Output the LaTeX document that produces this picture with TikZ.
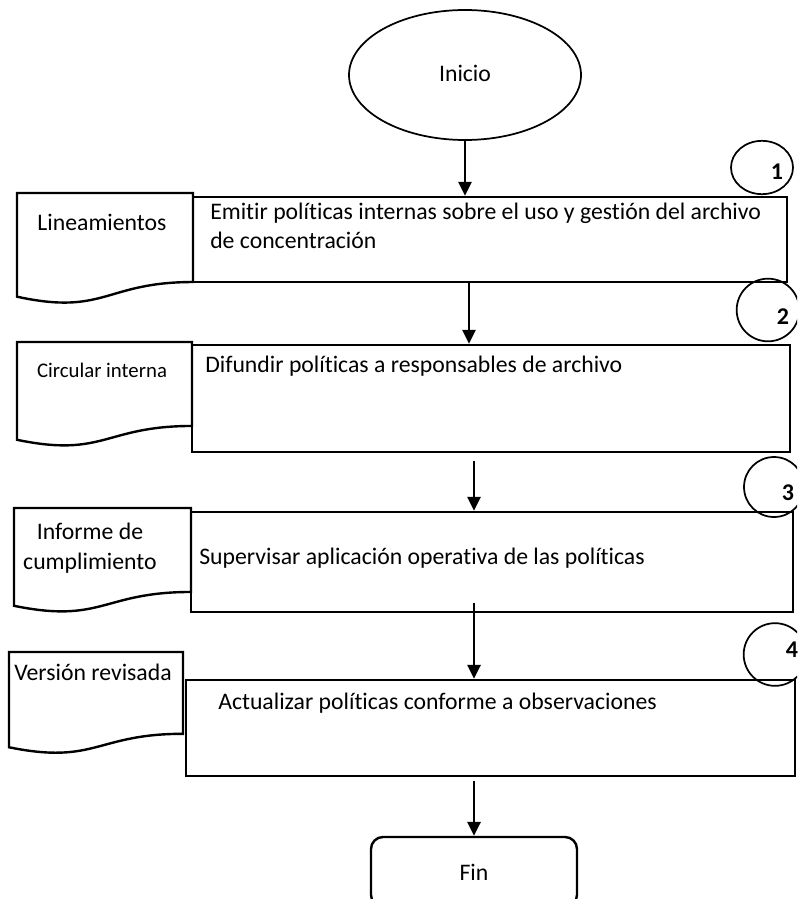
\documentclass[tikz,border=0pt]{standalone}
\usepackage{fontspec}
\setmainfont{Carlito}[Ligatures=NoCommon]
\usetikzlibrary{shapes.geometric,arrows.meta,calc}
\newcommand\docpath[4]{%
  \draw[docline] (#1,#2) -- ({#1+#3},#2) -- ({#1+#3},{#2+0.802*#4})
    .. controls ({#1+#3/2},{#2+0.802*#4}) and ({#1+#3/2},{#2+1.1075*#4}) .. (#1,{#2+0.934*#4}) -- cycle;}
\begin{document}
\begin{tikzpicture}[x=0.75pt,y=-0.75pt,
  proc/.style={draw,line width=1.8pt,rectangle,inner sep=0pt},
  docline/.style={draw,line width=1.8pt},
  txt/.style={font=\fontsize{17.8}{21.75}\selectfont,inner sep=0pt},
  smalltxt/.style={font=\fontsize{15.6}{19}\selectfont,inner sep=0pt},
  arr/.style={line width=1.6pt,-{Triangle[length=10.5pt,width=10pt]}},
  numc/.style={draw,line width=1.3pt,ellipse,inner sep=0pt},
  numtxt/.style={font=\fontsize{18}{20}\selectfont\bfseries,inner sep=0pt}]
\useasboundingbox (0,0) rectangle (797,899);
\clip (0,0) rectangle (797,899);
\fill[white] (0,0) rectangle (797,899);

% start
\node[draw,line width=1.3pt,ellipse,minimum width=174pt,minimum height=97.5pt,inner sep=0pt] (inicio) at (465,75) {};
\node[txt] (tinicio) at (465,73) {Inicio};

% process boxes
\node[proc,minimum width=445.5pt,minimum height=63.75pt] (b1) at (490,239.5) {};
\node[proc,minimum width=448.5pt,minimum height=80.25pt] (b2) at (491,398.5) {};
\node[proc,minimum width=451.5pt,minimum height=75pt] (b3) at (492,562) {};
\node[proc,minimum width=456.75pt,minimum height=72pt] (b4) at (490.5,728) {};
\node[draw,line width=1.8pt,rounded corners=9pt,minimum width=154.5pt,minimum height=52.5pt,inner sep=0pt] (fin) at (474,872) {};
\node[txt] (tfin) at (474,872) {Fin};

% box texts
\node[txt,anchor=west,align=left] (t1) at (210,225.5) {Emitir políticas internas sobre el uso y gestión del archivo\\de concentración};
\node[txt,anchor=west] (t2) at (205,366) {Difundir políticas a responsables de archivo};
\node[txt,anchor=west] (t3) at (199,558) {Supervisar aplicación operativa de las políticas};
\node[txt,anchor=west] (t4) at (218,703) {Actualizar políticas conforme a observaciones};

% documents
\docpath{17}{193}{176}{111}
\docpath{17}{342}{175}{104.7}
\docpath{14}{508}{177}{104.7}
\docpath{9}{652}{174}{102}
\node[txt] (d1) at (102,222) {Lineamientos};
\node[smalltxt] (d2) at (102,370) {Circular interna};
\node[txt,align=center,font=\fontsize{17.8}{22.5}\selectfont] (d3) at (90,548) {Informe de\\cumplimiento};
\node[txt] (d4) at (93,672) {Versión revisada};

% numbered circles
\node[numc,minimum width=46.5pt,minimum height=40pt] (n1) at (762,167.5) {};
\node[numc,minimum width=47pt,minimum height=47pt] (n2) at (768,310) {};
\node[numc,minimum width=45pt,minimum height=45pt] (n3) at (774,487) {};
\node[numc,minimum width=47pt,minimum height=47pt] (n4) at (775,654.5) {};
\node[numtxt] (l1) at (777,172) {1};
\node[numtxt] (l2) at (783,317) {2};
\node[numtxt] (l3) at (788,493) {3};
\node[numtxt] (l4) at (792,650) {4};

% connectors
\coordinate (c2) at (469,0);
\coordinate (s3) at (474,461);
\coordinate (s4) at (474,603);
\coordinate (s5) at (474,781);
\draw[arr] (inicio.south) -- (inicio.south |- b1.north);
\draw[arr] (c2 |- b1.south) -- (c2 |- b2.north);
\draw[arr] (s3) -- (s3 |- b3.north);
\draw[arr] (s4) -- (s4 |- b4.north);
\draw[arr] (s5) -- (fin.north);
\end{tikzpicture}
\end{document}
